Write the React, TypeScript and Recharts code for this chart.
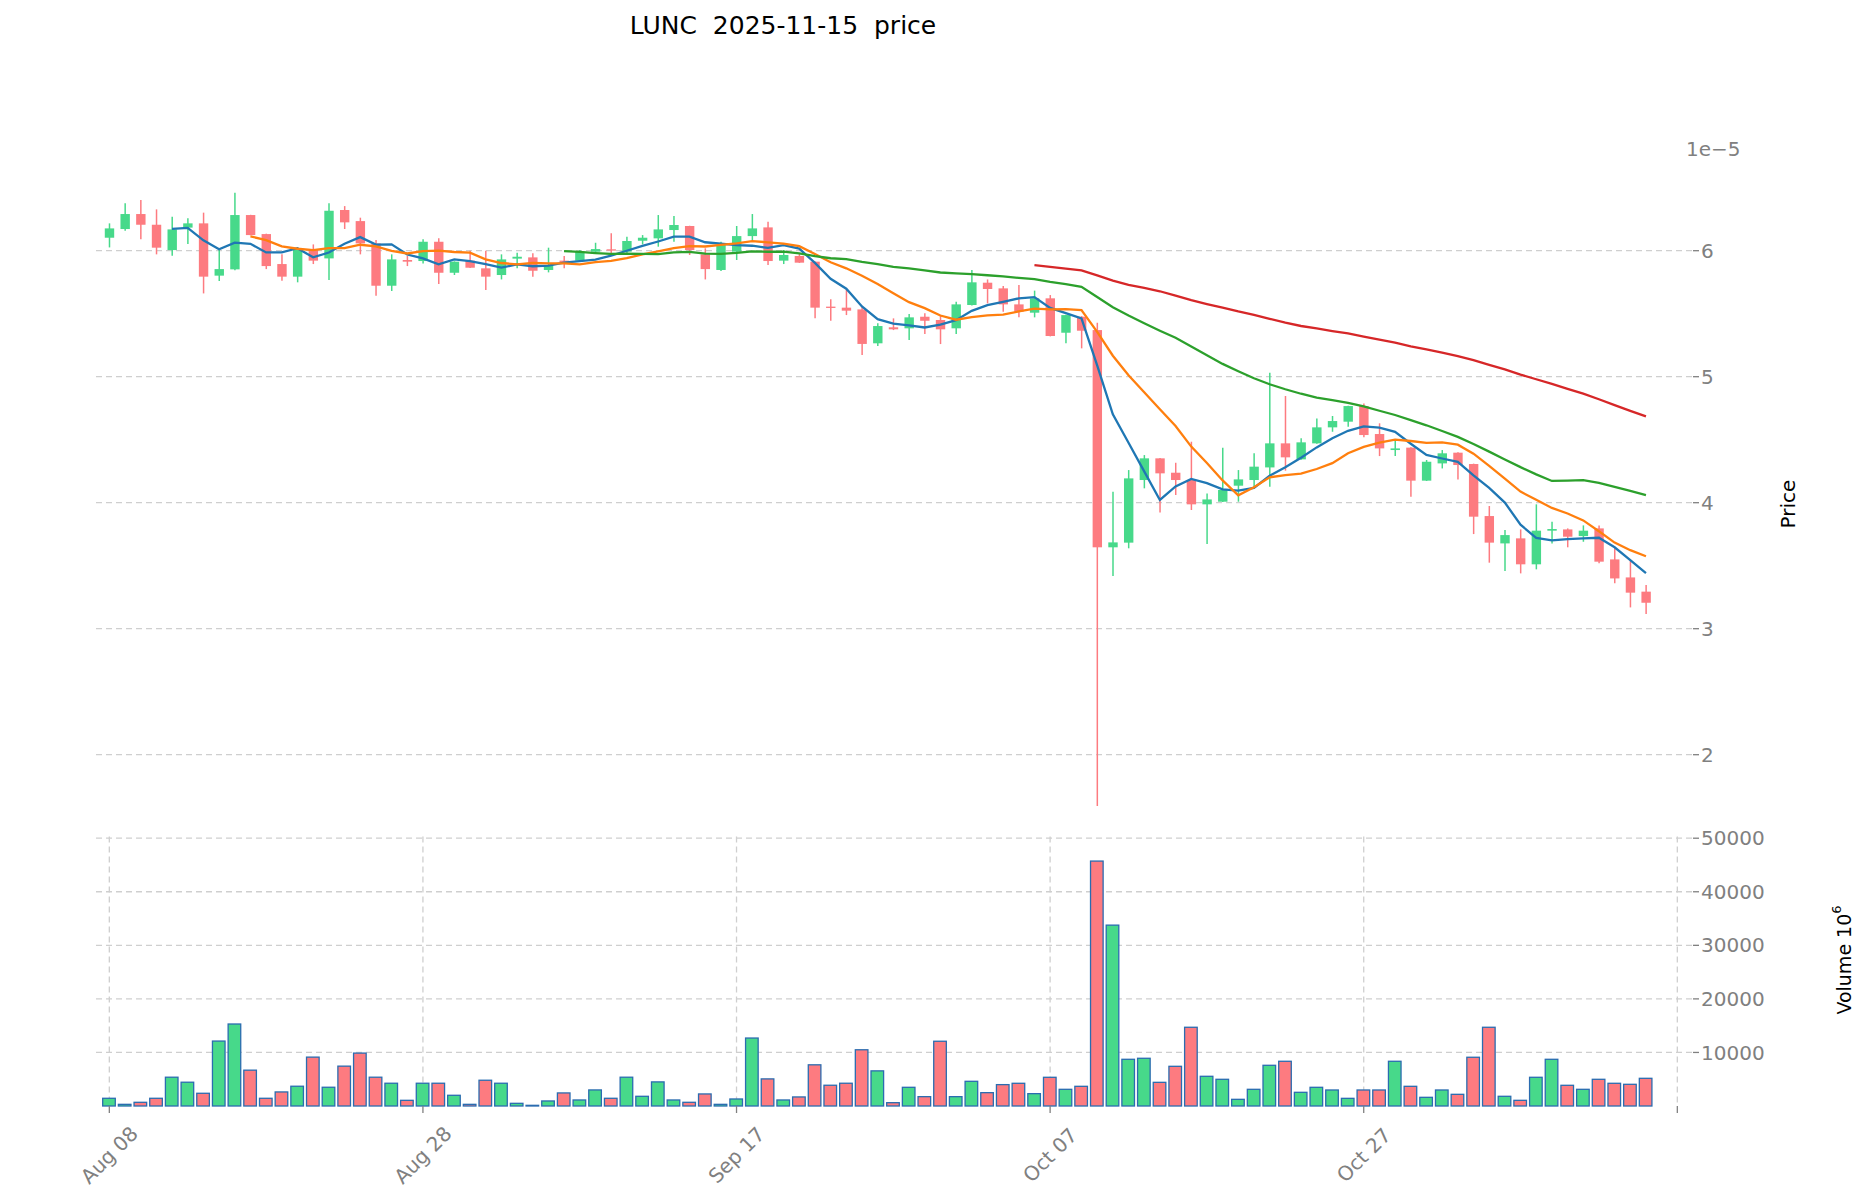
import React from 'react';
import { ComposedChart, Bar, Line, XAxis, YAxis, CartesianGrid } from 'recharts';

// Prices in units of 1e-5, volume in units of 1e6
const OPEN = [6.103,6.172,6.291,6.206,6.005,6.183,6.217,5.802,5.852,6.283,6.132,5.894,5.794,6.011,5.939,6.323,6.235,6.058,5.722,5.926,5.918,6.071,5.825,5.921,5.860,5.807,5.937,5.947,5.847,5.921,5.921,5.992,6.011,5.992,6.079,6.098,6.164,6.196,5.971,5.847,5.992,6.116,6.185,5.921,5.958,5.913,5.556,5.548,5.534,5.265,5.392,5.384,5.476,5.450,5.384,5.569,5.746,5.701,5.574,5.508,5.622,5.349,5.476,5.370,3.646,3.683,4.180,4.352,4.238,4.180,3.987,4.008,4.135,4.180,4.280,4.471,4.344,4.471,4.598,4.643,4.767,4.545,4.418,4.437,4.175,4.312,4.397,4.307,3.894,3.677,3.717,3.511,3.778,3.788,3.735,3.796,3.550,3.407,3.294];
const HIGH = [6.217,6.376,6.402,6.328,6.270,6.257,6.302,6.019,6.460,6.285,6.135,5.971,6.022,6.050,6.376,6.354,6.262,6.085,5.971,5.958,6.090,6.098,5.915,6.000,6.000,5.971,5.984,5.979,6.024,5.958,6.005,6.063,6.138,6.111,6.124,6.283,6.275,6.198,6.019,6.071,6.196,6.291,6.230,6.005,5.974,5.915,5.614,5.693,5.561,5.425,5.463,5.497,5.503,5.481,5.595,5.847,5.772,5.720,5.728,5.683,5.648,5.492,5.481,5.429,4.087,4.259,4.378,4.355,4.317,4.484,4.074,4.437,4.259,4.392,5.032,4.847,4.511,4.669,4.688,4.770,4.788,4.630,4.492,4.440,4.339,4.418,4.400,4.310,3.974,3.783,3.788,3.987,3.849,3.796,3.820,3.820,3.638,3.540,3.347];
const LOW = [6.026,6.159,6.090,5.971,5.960,6.053,5.661,5.759,5.845,6.122,5.854,5.762,5.749,5.894,5.767,6.172,5.971,5.643,5.680,5.878,5.899,5.735,5.807,5.862,5.688,5.772,5.860,5.794,5.828,5.860,5.913,5.974,5.966,5.979,6.050,6.032,6.071,5.966,5.772,5.839,5.926,6.085,5.886,5.894,5.903,5.463,5.444,5.489,5.172,5.243,5.370,5.291,5.339,5.259,5.339,5.566,5.582,5.516,5.471,5.471,5.320,5.265,5.225,1.593,3.418,3.638,4.114,3.923,4.061,3.942,3.672,4.005,4.008,4.114,4.127,4.254,4.340,4.468,4.563,4.603,4.519,4.370,4.370,4.048,4.172,4.272,4.185,3.751,3.524,3.458,3.439,3.471,3.677,3.646,3.690,3.519,3.360,3.169,3.116];
const CLOSE = [6.177,6.291,6.206,6.024,6.169,6.217,5.794,5.854,6.283,6.124,5.878,5.794,6.019,5.921,6.317,6.225,6.058,5.722,5.931,5.913,6.071,5.825,5.913,5.865,5.794,5.931,5.952,5.841,5.886,5.913,5.992,6.013,6.003,6.077,6.103,6.169,6.204,6.005,5.854,6.045,6.116,6.177,5.918,5.966,5.905,5.548,5.548,5.524,5.260,5.402,5.376,5.471,5.444,5.376,5.574,5.749,5.696,5.574,5.516,5.622,5.323,5.489,5.365,3.646,3.685,4.193,4.352,4.233,4.180,3.987,4.026,4.101,4.185,4.286,4.471,4.360,4.479,4.598,4.648,4.767,4.537,4.431,4.431,4.175,4.325,4.392,4.299,3.889,3.683,3.743,3.511,3.778,3.791,3.730,3.778,3.532,3.399,3.286,3.206];
const VOLUME = [1440,310,690,1440,5375,4440,2375,12125,15310,6690,1440,2625,3690,9125,3500,7440,9875,5375,4250,1060,4250,4250,2000,310,4810,4250,500,125,940,2440,1125,3000,1440,5375,1810,4500,1125,690,2250,310,1310,12690,5060,1125,1690,7690,3875,4250,10500,6560,620,3490,1745,12090,1745,4610,2490,3990,4240,2305,5360,3115,3675,45730,33770,8720,8910,4420,7410,14700,5545,4985,1245,3115,7600,8350,2555,3490,2990,1430,2990,2990,8350,3675,1620,2990,2180,9100,14700,1810,1060,5360,8720,3865,3115,4985,4240,4050,5170];

const DATE_TICKS = [0, 20, 40, 60, 80, 100];
const DATE_LABELS = ['Aug 08', 'Aug 28', 'Sep 17', 'Oct 07', 'Oct 27', ''];
const PRICE_TICKS = [2, 3, 4, 5, 6];
const VOLUME_TICKS = [10000, 20000, 30000, 40000, 50000];
const MA_WINDOWS = [5, 10, 30, 60];
const MA_COLORS = ['#1f77b4', '#ff7f0e', '#2ca02c', '#d62728'];

const UP = '#47d98a';
const DOWN = '#fd7b80';
const FONT = 'DejaVu Sans';
const GRAY = '#808080';

function movingAverage(values: number[], n: number): (number | null)[] {
  return values.map((_, i) => {
    if (i < n - 1) return null;
    let s = 0;
    for (let k = i - n + 1; k <= i; k++) s += values[k];
    return s / n;
  });
}

const maSeries = MA_WINDOWS.map((n) => movingAverage(CLOSE, n));

const rows = CLOSE.map((c, i) => {
  const r: any = {
    i,
    o: OPEN[i],
    h: HIGH[i],
    l: LOW[i],
    c,
    range: [LOW[i], HIGH[i]],
    vol: VOLUME[i],
    up: c >= OPEN[i],
  };
  MA_WINDOWS.forEach((n, k) => {
    r['ma' + n] = maSeries[k][i];
  });
  return r;
});

const Candle = (props: any) => {
  const { x, y, width, height } = props;
  const p = props.payload || props;
  if (x == null || y == null) return null;
  const cx = x + width / 2;
  const yTop = Math.min(y, y + height);
  const yBot = Math.max(y, y + height);
  const span = p.h - p.l;
  const py = (v: number) => yTop + ((p.h - v) / span) * (yBot - yTop);
  const color = p.c >= p.o ? UP : DOWN;
  const bTop = py(Math.max(p.o, p.c));
  const bBot = py(Math.min(p.o, p.c));
  const bw = 9.4;
  return (
    <g>
      <line x1={cx} x2={cx} y1={yTop} y2={yBot} stroke={color} strokeWidth={1.5} />
      <rect x={cx - bw / 2} y={bTop} width={bw} height={Math.max(bBot - bTop, 1.3)} fill={color} />
    </g>
  );
};

const VolBar = (props: any) => {
  const { x, y, width, height } = props;
  const p = props.payload || props;
  if (x == null || y == null) return null;
  const cx = x + width / 2;
  const top = Math.min(y, y + height);
  const h = Math.abs(height);
  const bw = 12.6;
  return (
    <rect x={cx - bw / 2} y={top} width={bw} height={h} fill={p.up ? UP : DOWN} stroke="#2b6cb0" strokeWidth={1.3} />
  );
};

const DateTick = (props: any) => {
  const { x, y, payload } = props;
  const idx = DATE_TICKS.indexOf(payload.value);
  const label = idx >= 0 ? DATE_LABELS[idx] : '';
  if (!label) return null;
  const cy = y + 40;
  return (
    <text x={x} y={cy} transform={`rotate(-45 ${x} ${cy})`} textAnchor="middle" dominantBaseline="central" fontSize={20} fill={GRAY} fontFamily={FONT}>
      {label}
    </text>
  );
};

const W = 1872;
const PLOT_LEFT = 96;
const PLOT_RIGHT = 1693;
const Y_AXIS_W = 100;
const PRICE_TOP = 162.5;
const PANEL_SPLIT = 836.6;
const VOL_BOTTOM = 1106;
const X_DOMAIN = [-0.85, 101];

const tickStyle = { fill: GRAY, fontSize: 20, fontFamily: FONT };
const yTickLine = { stroke: GRAY, strokeWidth: 1.3 };

export default function App() {
  return (
    <div style={{ position: 'absolute', left: 0, top: 0, width: W, height: 1202, background: '#fff' }}>
      <div style={{ position: 'absolute', left: 0, top: 0 }}>
        <ComposedChart
          width={W}
          height={840}
          data={rows}
          margin={{ top: PRICE_TOP, right: W - PLOT_RIGHT - Y_AXIS_W, left: PLOT_LEFT, bottom: 840 - PANEL_SPLIT }}
        >
          <CartesianGrid stroke="#cfcfcf" strokeDasharray="6 4" strokeWidth={1.3} horizontalValues={PRICE_TICKS} verticalValues={DATE_TICKS} />
          <XAxis dataKey="i" type="number" domain={X_DOMAIN} ticks={DATE_TICKS} height={0} tick={false} axisLine={false} tickLine={false} />
          <YAxis
            orientation="right"
            type="number"
            domain={[1.35, 6.7]}
            ticks={PRICE_TICKS}
            width={Y_AXIS_W}
            axisLine={false}
            tickLine={yTickLine}
            tickSize={6}
            tickMargin={2}
            tick={tickStyle}
            tickFormatter={(v: number) => String(v)}
          />
          <Bar dataKey="range" barSize={10} shape={(p: any) => <Candle {...p} />} isAnimationActive={false} />
          {MA_WINDOWS.map((n, k) => (
            <Line key={n} type="linear" dataKey={'ma' + n} stroke={MA_COLORS[k]} strokeWidth={2.3} dot={false} activeDot={false} isAnimationActive={false} />
          ))}
        </ComposedChart>
      </div>
      <div style={{ position: 'absolute', left: 0, top: 0 }}>
        <ComposedChart
          width={W}
          height={1202}
          data={rows}
          margin={{ top: PANEL_SPLIT, right: W - PLOT_RIGHT - Y_AXIS_W, left: PLOT_LEFT, bottom: 1202 - VOL_BOTTOM - 80 }}
        >
          <CartesianGrid stroke="#cfcfcf" strokeDasharray="6 4" strokeWidth={1.3} horizontalValues={VOLUME_TICKS} verticalValues={DATE_TICKS} />
          <XAxis
            dataKey="i"
            type="number"
            domain={X_DOMAIN}
            ticks={DATE_TICKS}
            height={80}
            axisLine={false}
            tickLine={{ stroke: GRAY, strokeWidth: 1.3 }}
            tickSize={7}
            tickMargin={2}
            tick={<DateTick />}
            interval={0}
          />
          <YAxis
            orientation="right"
            type="number"
            domain={[0, 50300]}
            ticks={VOLUME_TICKS}
            width={Y_AXIS_W}
            axisLine={false}
            tickLine={yTickLine}
            tickSize={6}
            tickMargin={2}
            tick={tickStyle}
            tickFormatter={(v: number) => String(v)}
          />
          <Bar dataKey="vol" barSize={13} shape={(p: any) => <VolBar {...p} />} isAnimationActive={false} />
        </ComposedChart>
      </div>
      <svg width={W} height={1202} style={{ position: 'absolute', left: 0, top: 0, pointerEvents: 'none' }}>
        <text x={783} y={25} textAnchor="middle" dominantBaseline="central" fontSize={25} fontFamily={FONT} fill="#000" style={{ whiteSpace: 'pre' }}>
          {'LUNC  2025-11-15  price'}
        </text>
        <text x={1686} y={149} textAnchor="start" dominantBaseline="central" fontSize={20} fontFamily={FONT} fill={GRAY}>
          1e−5
        </text>
        <text x={1788} y={504} transform="rotate(-90 1788 504)" textAnchor="middle" dominantBaseline="central" fontSize={20} fontFamily={FONT} fill="#000">
          Price
        </text>
        <text x={1844} y={960} transform="rotate(-90 1844 960)" textAnchor="middle" dominantBaseline="central" fontSize={19} fontFamily={FONT} fill="#000" style={{ whiteSpace: 'pre' }}>
          {'Volume 10'}<tspan fontSize={13} dy={-8}>6</tspan>
        </text>
      </svg>
    </div>
  );
}
